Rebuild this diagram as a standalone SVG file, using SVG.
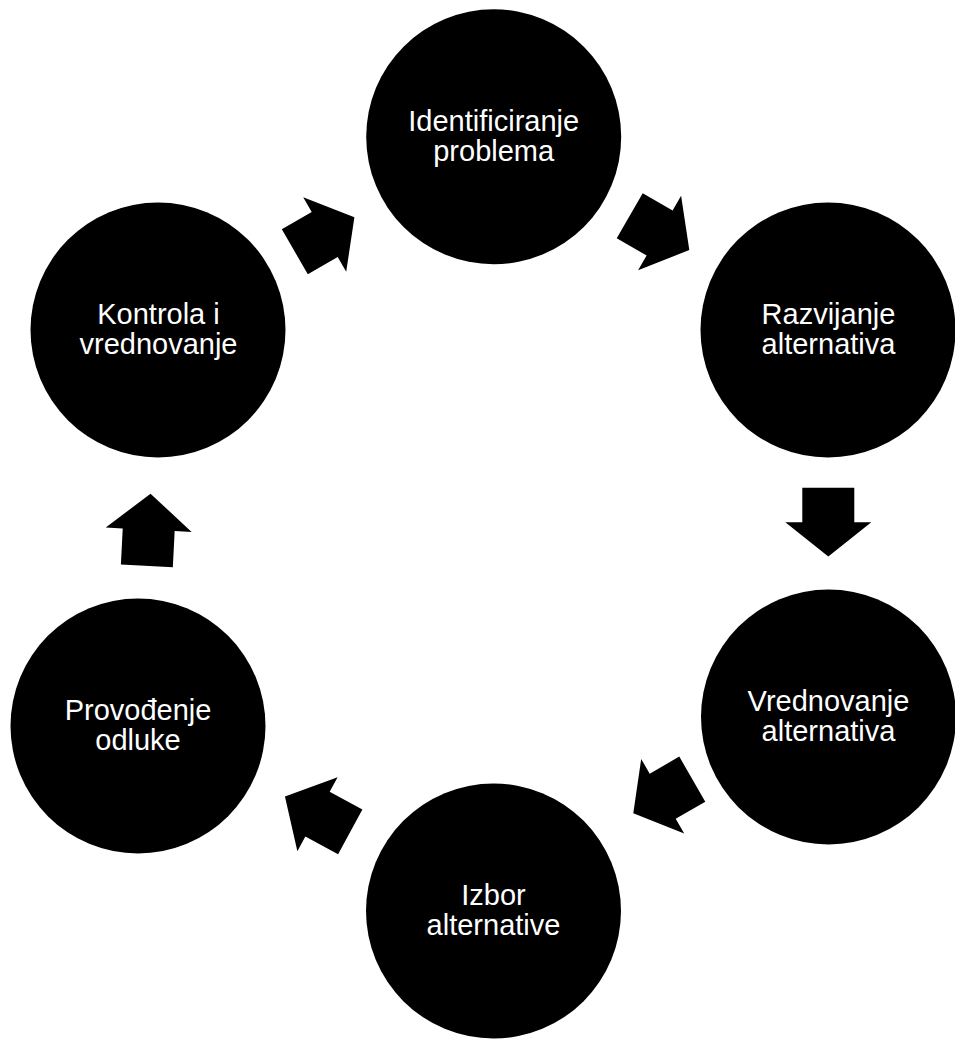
<svg xmlns="http://www.w3.org/2000/svg" xmlns:xlink="http://www.w3.org/1999/xlink" width="955" height="1039" viewBox="0 0 955 1039">
  <style>
    .node { fill: #000000; }
    .label { font-family: "Liberation Sans", Arial, sans-serif; font-size: 29px; fill: #ffffff; text-anchor: middle; }
    .arrow { fill: #000000; }
  </style>
  <defs>
    <path id="arr" d="M -34.5,-26 L 0,-26 L 0,-43 L 34.3,0 L 0,43 L 0,26 L -34.5,26 Z"/>
  </defs>
  <rect width="955" height="1039" fill="#ffffff"/>

  <g id="connectors">
    <use class="arrow" xlink:href="#arr" href="#arr" transform="translate(324.7,234.5) rotate(-30)"/>
    <use class="arrow" xlink:href="#arr" href="#arr" transform="translate(659.6,232.9) rotate(30)"/>
    <use class="arrow" xlink:href="#arr" href="#arr" transform="translate(828.3,522.3) rotate(90)"/>
    <use class="arrow" xlink:href="#arr" href="#arr" transform="translate(662.7,796.2) rotate(150) scale(0.99,1)"/>
    <use class="arrow" xlink:href="#arr" href="#arr" transform="translate(317.5,814.2) rotate(-151.5) scale(1.08,0.98)"/>
    <use class="arrow" xlink:href="#arr" href="#arr" transform="translate(148.7,529.7) rotate(-87.1) scale(1.05,1)"/>
  </g>

  <g id="node-identificiranje">
    <circle class="node" cx="493.7" cy="136.8" r="127.5"/>
    <text class="label" x="493.7" y="131">Identificiranje</text>
    <text class="label" x="493.7" y="160.5">problema</text>
  </g>
  <g id="node-razvijanje">
    <circle class="node" cx="828" cy="330" r="127.5"/>
    <text class="label" x="828.5" y="324">Razvijanje</text>
    <text class="label" x="828.5" y="353.5">alternativa</text>
  </g>
  <g id="node-vrednovanje">
    <circle class="node" cx="828.5" cy="717" r="127.5"/>
    <text class="label" x="828.5" y="711">Vrednovanje</text>
    <text class="label" x="828.5" y="740.5">alternativa</text>
  </g>
  <g id="node-izbor">
    <circle class="node" cx="493.5" cy="911" r="127.5"/>
    <text class="label" x="493.5" y="905">Izbor</text>
    <text class="label" x="493.5" y="934.5">alternative</text>
  </g>
  <g id="node-provodenje">
    <circle class="node" cx="138" cy="726" r="127.5"/>
    <text class="label" x="138" y="720">Provođenje</text>
    <text class="label" x="138" y="749.5">odluke</text>
  </g>
  <g id="node-kontrola">
    <circle class="node" cx="158" cy="330" r="127.5"/>
    <text class="label" x="158.5" y="324">Kontrola i</text>
    <text class="label" x="158.5" y="353.5">vrednovanje</text>
  </g>
</svg>
